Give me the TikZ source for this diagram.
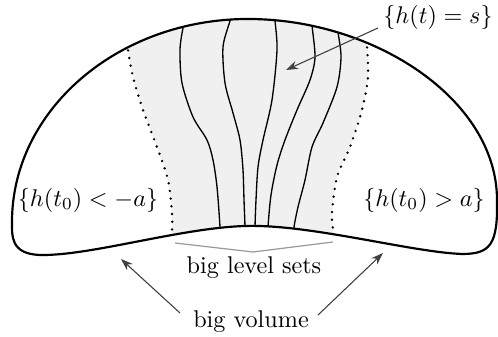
\documentclass[tikz,border=0pt]{standalone}
\usetikzlibrary{arrows.meta}
\begin{document}
\begin{tikzpicture}[x=0.4137pt,y=-0.4137pt,
  outl/.style={line width=0.9pt},
  lvl/.style={line width=0.55pt},
  dotl/.style={line width=1.1pt, dash pattern=on 0pt off 3.2pt, line cap=round},
  shade/.style={fill=black!6},
  arr/.style={line width=0.45pt, draw=black!75, -{Stealth[length=5pt,width=3.5pt]}},
  brk/.style={line width=0.5pt, draw=black!40},
  lbl/.style={inner sep=1pt}]
\useasboundingbox (0,0) rectangle (498,337);
\begin{scope}
\clip (12,222) .. controls (12,110) and (118,19) .. (248,19)
  .. controls (375,19) and (497,100) .. (497,200)
  .. controls (498,245) and (490,254) .. (462,254)
  .. controls (410,252) and (310,224) .. (245,226)
  .. controls (180,228) and (90,256) .. (40,255)
  .. controls (10,254) and (12,235) .. (12,222) -- cycle;
\fill[shade] (127,0) -- plot[smooth] coordinates {(127,35) (128,50) (133,77) (143,110) (157,147) (168,180) (172,213) (172,233) (172,245)} -- (172,270) -- (333,270) -- plot[smooth] coordinates {(333,245) (333,230) (332,213) (337,177) (350,147) (362,110) (368,77) (367,45) (367,32)} -- (367,0) -- cycle;
\draw[dotl] plot[smooth] coordinates {(127,35) (128,50) (133,77) (143,110) (157,147) (168,180) (172,213) (172,233) (172,245)};
\draw[dotl] plot[smooth] coordinates {(367,32) (367,45) (368,77) (362,110) (350,147) (337,177) (332,213) (333,230) (333,245)};
\draw[lvl] plot[smooth] coordinates {(186,18) (183,28) (180,50) (182,83) (193,117) (207,140) (213,160) (217,187) (220,227) (220,240)};
\draw[lvl] plot[smooth] coordinates {(232,12) (230,21) (223,47) (225,83) (233,113) (240,140) (243,170) (244,200) (245,227) (245,240)};
\draw[lvl] plot[smooth] coordinates {(275,10) (275,20) (277,50) (272,100) (263,140) (258,167) (256,200) (255,227) (255,240)};
\draw[lvl] plot[smooth] coordinates {(312,15) (312,25) (315,57) (310,80) (297,110) (285,140) (277,165) (271,195) (268,227) (268,240)};
\draw[lvl] plot[smooth] coordinates {(337,22) (338,32) (341,57) (337,87) (323,123) (312,147) (305,180) (298,207) (294,227) (293,240)};
\end{scope}
\draw[outl] (12,222) .. controls (12,110) and (118,19) .. (248,19)
  .. controls (375,19) and (497,100) .. (497,200)
  .. controls (498,245) and (490,254) .. (462,254)
  .. controls (410,252) and (310,224) .. (245,226)
  .. controls (180,228) and (90,256) .. (40,255)
  .. controls (10,254) and (12,235) .. (12,222) -- cycle;
% labels
\node[lbl] (hts) at (438,17) {$\{h(t)=s\}$};
\node[lbl] (left) at (88,200) {$\{h(t_0)<-a\}$};
\node[lbl] (right) at (424,200) {$\{h(t_0)>a\}$};
\node[lbl] (bls) at (254,268) {big level sets};
\node[lbl] (bv) at (251,322) {big volume};
% arrows
\coordinate (htsTail) at (378,28);
\coordinate (htsTip) at (286,70);
\draw[arr] (htsTail) -- (htsTip);
\coordinate (bvL) at (180,313);
\coordinate (bvLtip) at (121,259);
\coordinate (bvR) at (318,315);
\coordinate (bvRtip) at (383,253);
\draw[arr] (bvL) -- (bvLtip);
\draw[arr] (bvR) -- (bvRtip);
% bracket
\coordinate (bkL) at (175,243);
\coordinate (bkM) at (253,252);
\coordinate (bkR) at (333,242);
\draw[brk] (bkL) -- (bkM) -- (bkR);
\end{tikzpicture}
\end{document}
